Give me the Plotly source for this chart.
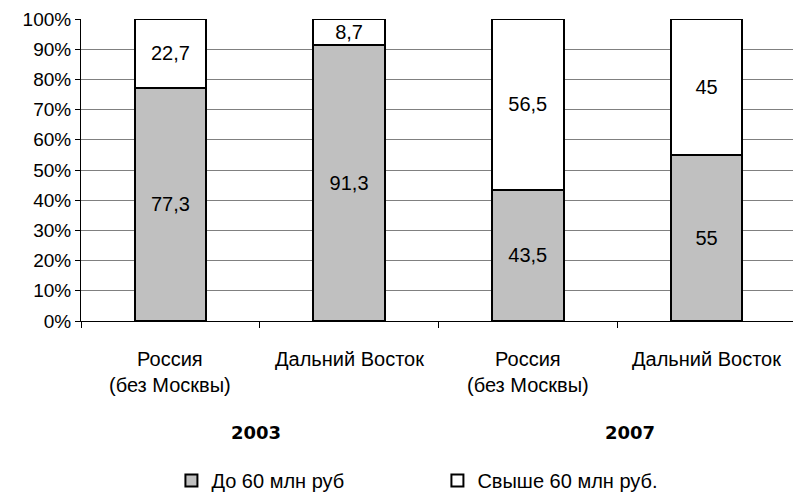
import plotly.graph_objects as go

# Share of companies by size group, percent
regions = ["Россия<br>(без Москвы)", "Дальний Восток", "Россия<br>(без Москвы)", "Дальний Восток"]
years = ["2003", "2007"]
up_to_60 = [77.3, 91.3, 43.5, 55]
over_60 = [22.7, 8.7, 56.5, 45]
series_names = ["До 60 млн руб", "Свыше 60 млн руб."]
y_ticks = [0, 10, 20, 30, 40, 50, 60, 70, 80, 90, 100]

FONT = "Arial"
LABEL_SIZE = 20
x_pos = list(range(len(regions)))


def fmt(v):
    return f"{v:g}".replace(".", ",")


fig = go.Figure()
for name, vals, color in [(series_names[0], up_to_60, "#C0C0C0"),
                          (series_names[1], over_60, "#FFFFFF")]:
    fig.add_trace(go.Bar(
        x=x_pos, y=vals, name=name, width=0.4,
        marker=dict(color=color, line=dict(color="black", width=2)),
        text=[fmt(v) for v in vals], textposition="inside",
        insidetextanchor="middle", textangle=0,
        textfont=dict(color="black", size=LABEL_SIZE, family=FONT),
    ))

annotations = []
for i, r in enumerate(regions):
    annotations.append(dict(
        x=i, y=-0.082, xref="x", yref="paper", text=r, showarrow=False,
        xanchor="center", yanchor="top",
        font=dict(size=LABEL_SIZE, family=FONT, color="black"),
    ))
for xv, yr in zip([0.48, 2.57], years):
    annotations.append(dict(
        x=xv, y=-0.37, xref="x", yref="paper", text=f"<b>{yr}</b>", showarrow=False,
        xanchor="center", yanchor="middle",
        font=dict(size=18, family="DejaVu Sans", color="black"),
    ))

fig.update_layout(
    width=793, height=500,
    margin=dict(l=81, r=0, t=19, b=173),
    barmode="stack",
    plot_bgcolor="white", paper_bgcolor="white",
    uniformtext=dict(minsize=19, mode="show"),
    font=dict(family=FONT, size=19, color="black"),
    showlegend=True,
    legend=dict(
        orientation="h", x=0.127, xanchor="left", y=-0.529, yanchor="middle",
        entrywidth=221, entrywidthmode="pixels", traceorder="normal",
        font=dict(size=LABEL_SIZE, family=FONT, color="black"), itemwidth=30,
    ),
    annotations=annotations,
    xaxis=dict(
        range=[-0.5, 3.484], tickvals=[-0.5, 0.5, 1.5, 2.5, 3.5],
        ticktext=["", "", "", "", ""], ticks="outside", ticklen=6,
        tickcolor="black", showline=True, linecolor="black", linewidth=1,
        showgrid=False, zeroline=False,
    ),
    yaxis=dict(
        range=[0, 100], tickvals=y_ticks, ticktext=[f"{t}%" for t in y_ticks],
        ticks="outside", ticklen=5, tickcolor="black",
        showline=True, linecolor="black", linewidth=1,
        showgrid=True, gridcolor="#808080", gridwidth=1, zeroline=False,
        tickfont=dict(size=19, family=FONT, color="black"),
    ),
)

fig.write_html("out.html")
